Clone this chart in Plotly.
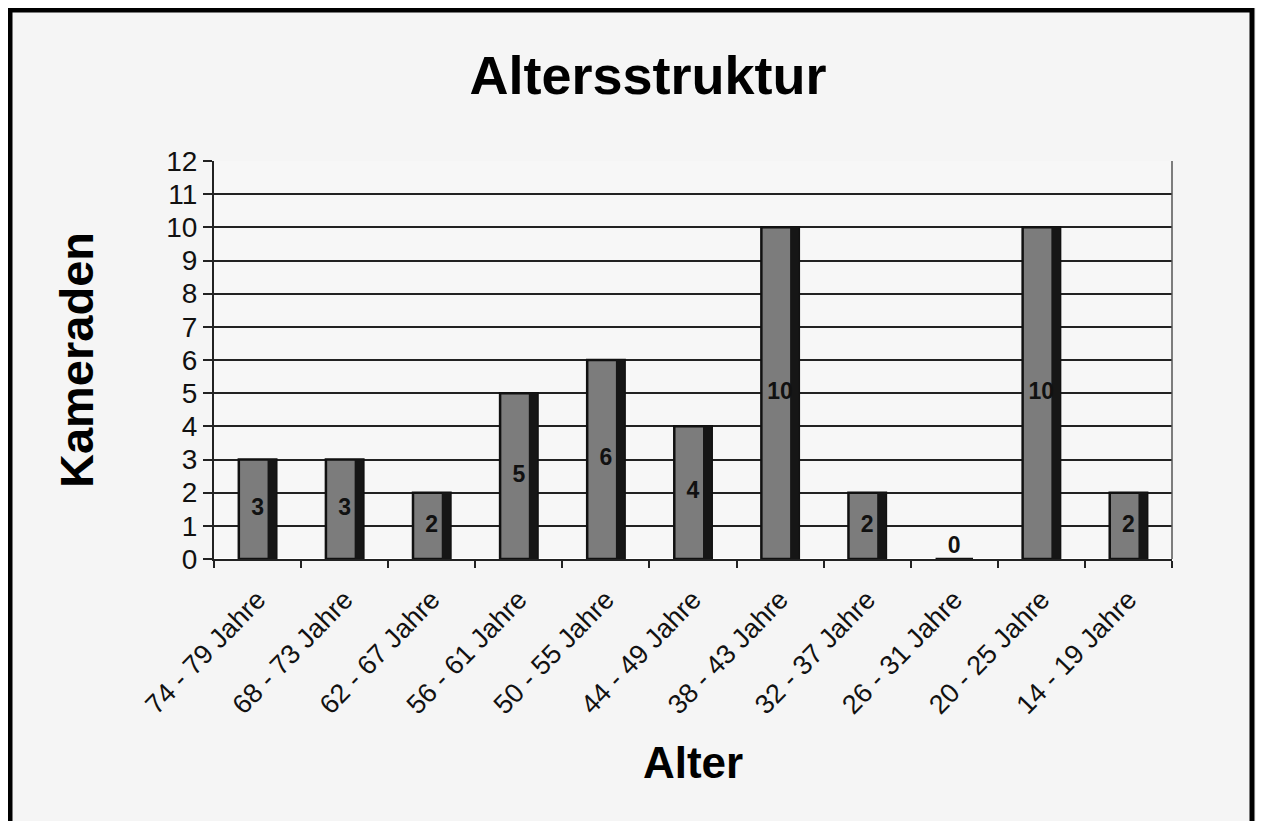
import plotly.graph_objects as go

categories = ["74 - 79 Jahre", "68 - 73 Jahre", "62 - 67 Jahre", "56 - 61 Jahre",
              "50 - 55 Jahre", "44 - 49 Jahre", "38 - 43 Jahre", "32 - 37 Jahre",
              "26 - 31 Jahre", "20 - 25 Jahre", "14 - 19 Jahre"]
values = [3, 3, 2, 5, 6, 4, 10, 2, 0, 10, 2]
y_ticks = list(range(0, 13))

W, H = 1264, 821
OFF = 8  # page body margin
L, T = 214 - OFF, 161 - OFF
R = W - (1172 - OFF)
B = H - (559 - OFF)
pw, ph = W - L - R, H - T - B

fig = go.Figure()
fig.add_trace(go.Bar(
    x=categories, y=values, width=0.43, offset=-0.215,
    marker=dict(color="#7c7c7c", line=dict(color="#111111", width=2.5)),
    hoverinfo="skip", showlegend=False,
))
fig.add_trace(go.Bar(
    x=categories, y=values, width=0.1, offset=0.115,
    marker=dict(color="#161616", line=dict(width=0)),
    hoverinfo="skip", showlegend=False,
))
# value labels centred in each bar (just above the axis for zero)
fig.add_trace(go.Scatter(
    x=categories, y=[v / 2 for v in values], mode="text",
    text=[str(v) for v in values],
    textposition=["middle center" if v > 0 else "top center" for v in values],
    textfont=dict(family="Liberation Sans", size=23, color="#111111", weight="bold"),
    cliponaxis=False, hoverinfo="skip", showlegend=False,
))

fig.update_layout(
    width=W, height=H,
    margin=dict(l=L, r=R, t=T, b=B, autoexpand=False),
    barmode="overlay",
    paper_bgcolor="#f5f5f5", plot_bgcolor="#f7f7f7",
    font=dict(family="Liberation Sans", color="#111111"),
    title=dict(text="<b>Altersstruktur</b>", x=(648 - OFF) / W, xanchor="center",
               y=1 - (75 - OFF) / H, yanchor="middle",
               font=dict(size=54, family="Liberation Sans", color="#000000")),
    xaxis=dict(
        type="category", range=[-0.5, len(categories) - 0.5],
        tickangle=-46, tickson="boundaries",
        ticks="outside", ticklen=7, tickcolor="#222", tickwidth=1.5,
        tickfont=dict(size=27, color="#111"), ticklabelstandoff=12,
        showline=True, linecolor="#222", linewidth=2, mirror=False,
        showgrid=False,
        title=dict(text="<b>Alter</b>", font=dict(size=44, color="#000"), standoff=28),
    ),
    yaxis=dict(
        range=[0, 12], tickvals=y_ticks, ticks="outside", ticklen=9,
        tickcolor="#222", tickwidth=1.5,
        tickfont=dict(size=28, color="#111"),
        showline=True, linecolor="#222", linewidth=2,
        showgrid=True, gridcolor="#222", gridwidth=1.8,
        title=dict(text="<b>Kameraden</b>", font=dict(size=47, color="#000"), standoff=58),
    ),
)

# right border of plot area
fig.add_shape(type="line", xref="paper", yref="paper", x0=1, x1=1, y0=0, y1=1,
              line=dict(color="#555", width=1.5))
# outer frame
fig.add_shape(type="rect", xref="paper", yref="paper",
              x0=(10 - OFF - L) / pw, x1=(1252 - OFF - L) / pw,
              y0=-0.8, y1=(ph + T - (10 - OFF)) / ph,
              line=dict(color="#000", width=5), layer="below")

fig.write_html("out.html")
